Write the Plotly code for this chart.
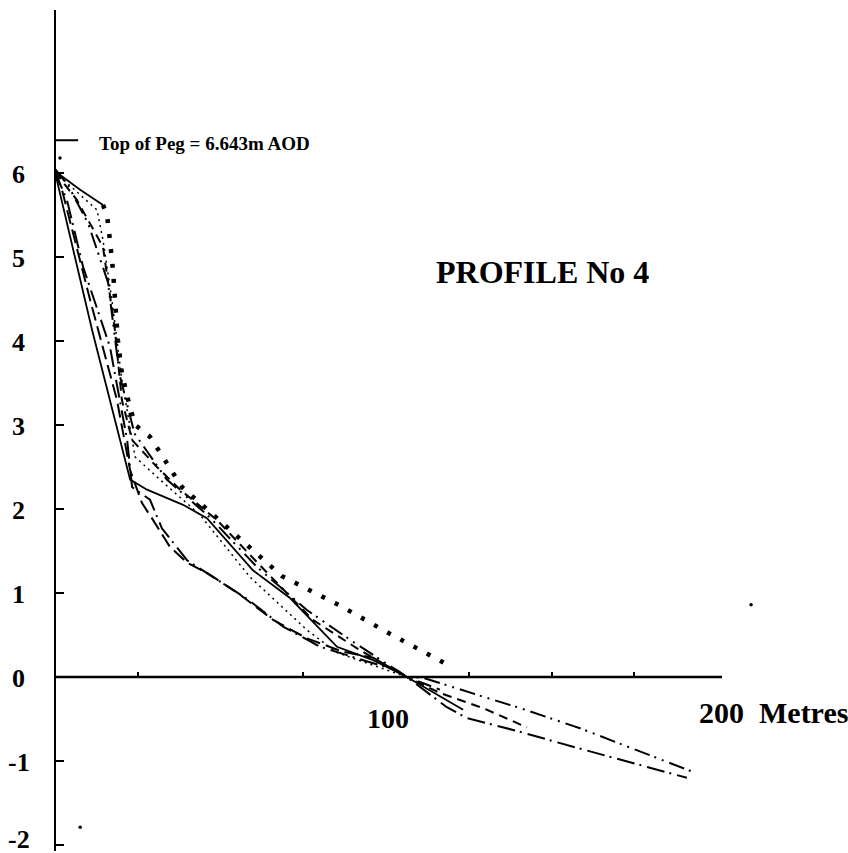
import plotly.graph_objects as go

W, H = 848, 853

# ---------------- data ----------------
solid_x = [0, 11.2, 22.7, 27.8, 38.7, 45.9, 59.8, 71.0, 85.2, 96.1, 106.3, 123.3]
solid_y = [6.01, 4.13, 2.35, 2.23, 2.05, 1.89, 1.27, 0.94, 0.36, 0.20, 0.0, -0.39]

heavy_top_x = [0, 7.6, 14.5]
heavy_top_y = [6.02, 5.80, 5.62]
heavy_x = [14.5, 15.7, 16.6, 17.5, 19.0, 20.2, 22.1, 24.2, 28.7, 32.0, 35.3, 38.4, 68.6, 86.1, 100.0, 118.4]
heavy_y = [5.62, 5.50, 5.20, 4.85, 4.01, 3.62, 3.30, 3.00, 2.86, 2.65, 2.45, 2.26, 1.20, 0.85, 0.54, 0.15]

dashed_x = [0, 6.6, 14.5, 18.1, 20.2, 23.3, 30.8, 37.8, 48.9, 61.9, 77.9, 92.1, 106.3, 116.3, 129.3, 142.6]
dashed_y = [6.01, 5.68, 5.12, 4.13, 3.30, 2.82, 2.50, 2.23, 1.87, 1.33, 0.68, 0.32, 0.0, -0.19, -0.37, -0.60]

dashdotdot_x = [0, 4.0, 10.0, 16.0, 19.5, 24.0, 33.8, 46.8, 61.0, 76.0, 90.0, 106.3, 111.2, 125.4, 132.3, 140.5, 158.6, 193.4]
dashdotdot_y = [6.05, 5.85, 5.40, 4.70, 3.60, 2.90, 2.35, 1.90, 1.31, 0.80, 0.42, 0.0, -0.01, -0.19, -0.27, -0.37, -0.61, -1.14]

dashdot_x = [0, 3.6, 8.5, 16.6, 21.8, 23.3, 28.7, 32.3, 39.9, 47.7, 58.0, 68.9, 80.1, 93.1, 103.3, 106.3, 118.4, 124.5, 138.4, 156.5, 190.9]
dashdot_y = [6.01, 5.68, 4.88, 3.93, 2.82, 2.26, 2.11, 1.77, 1.39, 1.19, 0.93, 0.60, 0.36, 0.20, 0.08, 0.0, -0.36, -0.49, -0.63, -0.83, -1.20]

longdash_x = [0, 2.1, 10.6, 18.7, 22.7, 26.3, 29.6, 34.7, 39.9, 45.9, 55.9, 65.9, 76.1, 87.0, 96.1, 106.3, 116.3]
longdash_y = [6.01, 5.80, 4.49, 3.30, 2.46, 2.07, 1.87, 1.55, 1.36, 1.24, 0.98, 0.68, 0.46, 0.30, 0.23, 0.0, -0.15]

finedot_x = [0, 12.7, 14.5, 17.2, 20.2, 24.2, 31.7, 43.8, 58.9, 68.9, 76.1, 85.2, 98.2, 106.3]
finedot_y = [6.01, 5.56, 5.20, 4.49, 3.54, 2.62, 2.35, 1.93, 1.19, 0.83, 0.56, 0.29, 0.11, 0.0]

stray_x = [1.5, 7.6, 210.3]
stray_y = [6.18, -1.79, 0.86]

peg_x = [0, 7.0]
peg_y = [6.39, 6.39]

y_ticks = [-2, -1, 0, 1, 2, 3, 4, 5, 6]
y_tick_text = ["-2", "-1", "0", "1", "2", "3", "4", "5", "6"]
x_minor_ticks = [25, 75, 125, 150, 175]

peg_label = "Top of Peg = 6.643m AOD"
title_label = "PROFILE No 4"
x_label_100 = "100"
x_label_200 = "200  Metres"

# ---------------- figure ----------------
X_RANGE = [-55 / 3.31, (W - 55) / 3.31]
Y_RANGE = [(677 - H) / 84.0, 677 / 84.0]

SERIF = "Liberation Serif, Times New Roman, serif"

fig = go.Figure()


def add_line(x, y, dash, width=2.0):
    fig.add_trace(go.Scatter(x=x, y=y, mode="lines",
                             line=dict(color="black", width=width, dash=dash),
                             hoverinfo="skip", showlegend=False))


add_line(solid_x, solid_y, "solid", 1.8)
add_line(heavy_top_x, heavy_top_y, "solid", 1.8)
add_line(heavy_x, heavy_y, "4px,11px", 4.5)
add_line(dashed_x, dashed_y, "9px,6px", 2.0)
add_line(dashdotdot_x, dashdotdot_y, "16px,5px,2px,6px,2px,6px", 2.0)
add_line(dashdot_x, dashdot_y, "18px,5px,2px,6px", 2.0)
add_line(longdash_x, longdash_y, "14px,6px", 2.0)
add_line(finedot_x, finedot_y, "2px,4px", 1.5)
add_line(peg_x, peg_y, "solid", 2.0)

fig.add_trace(go.Scatter(x=stray_x, y=stray_y, mode="markers",
                         marker=dict(color="black", size=3.5),
                         hoverinfo="skip", showlegend=False))

# axis lines
fig.add_shape(type="line", x0=0, x1=0, y0=-2.07, y1=7.94,
              line=dict(color="black", width=2))
fig.add_shape(type="line", x0=0, x1=201.5, y0=0, y1=0,
              line=dict(color="black", width=2.5))

annotations = []
for v, t in zip(y_ticks, y_tick_text):
    annotations.append(dict(x=0, y=v, xref="x", yref="y", text=t, showarrow=False,
                            xanchor="center", yanchor="middle", xshift=-36.5,
                            yshift=(6 if v == -2 else -1),
                            font=dict(family=SERIF, size=26, color="black", weight="bold")))

annotations.append(dict(x=100, y=0, xref="x", yref="y", text=x_label_100, showarrow=False,
                        xanchor="center", yanchor="middle", yshift=-41, xshift=2,
                        font=dict(family=SERIF, size=28, color="black", weight="bold")))
annotations.append(dict(x=200, y=0, xref="x", yref="y", text=x_label_200, showarrow=False,
                        xanchor="left", yanchor="middle", yshift=-35, xshift=-20,
                        font=dict(family=SERIF, size=30, color="black", weight="bold")))
annotations.append(dict(x=97 / W, y=1 - 143 / H, xref="paper", yref="paper", text=peg_label,
                        showarrow=False, xanchor="left", yanchor="middle",
                        font=dict(family=SERIF, size=19, color="black", weight="bold")))
annotations.append(dict(x=434 / W, y=1 - 272 / H, xref="paper", yref="paper", text=title_label,
                        showarrow=False, xanchor="left", yanchor="middle",
                        font=dict(family=SERIF, size=32, color="black", weight="bold")))

fig.update_layout(
    width=W, height=H,
    margin=dict(l=0, r=0, t=0, b=0),
    paper_bgcolor="white", plot_bgcolor="white",
    showlegend=False,
    annotations=annotations,
    xaxis=dict(range=X_RANGE, showgrid=False, zeroline=False, showline=False,
               anchor="free", position=1 - 677 / H,
               tickmode="array", tickvals=x_minor_ticks, ticks="inside",
               ticklen=5, tickwidth=1.5, tickcolor="black", showticklabels=False),
    yaxis=dict(range=Y_RANGE, showgrid=False, zeroline=False, showline=False,
               anchor="free", position=55 / W,
               tickmode="array", tickvals=y_ticks, ticks="inside",
               ticklen=8, tickwidth=2, tickcolor="black", showticklabels=False),
)

fig.write_html("out.html")
